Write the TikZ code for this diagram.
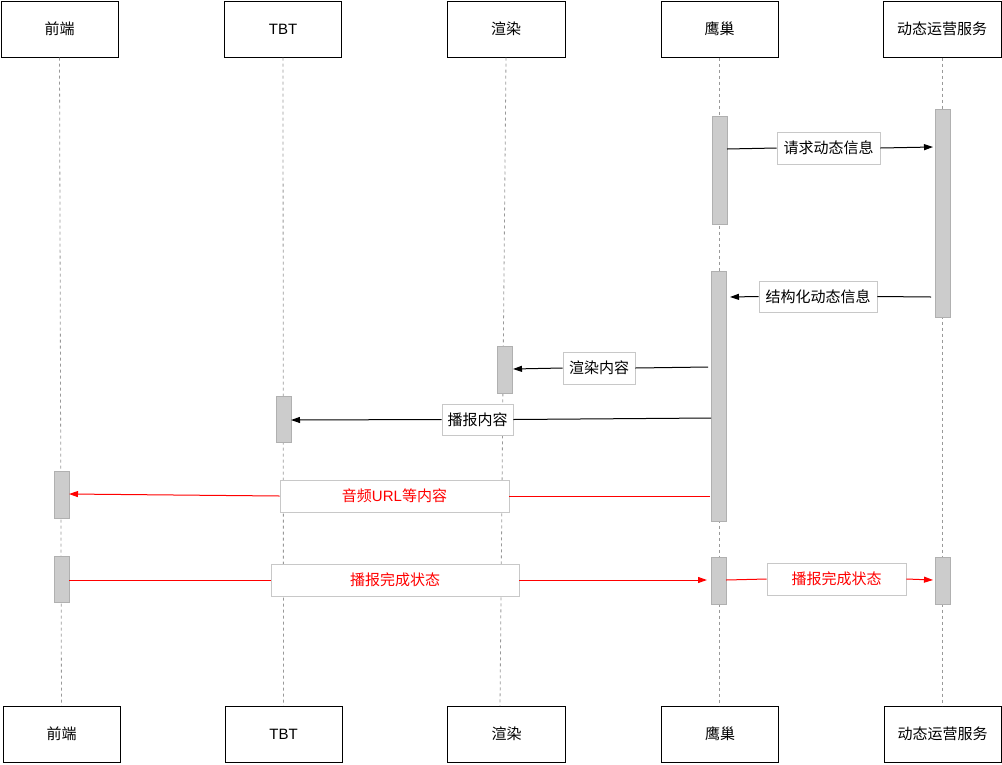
\documentclass[tikz,border=0pt]{standalone}
\usepackage{fontspec}
\setmainfont{Liberation Sans}
\newfontfamily\cjk{Noto Sans CJK SC}
\usetikzlibrary{arrows.meta}
\definecolor{barfill}{HTML}{CCCCCC}
\definecolor{barline}{HTML}{B0B0B0}
\definecolor{lblline}{HTML}{C8C8C8}
\definecolor{lifegray}{HTML}{999999}
\definecolor{msgred}{HTML}{FF0000}
\begin{document}
\begin{tikzpicture}[x=1pt,y=-1pt,
  actor/.style={draw=black, line width=1pt, fill=white, minimum width=117pt, minimum height=56pt, inner sep=0pt, font=\fontsize{15}{18}\selectfont},
  bar/.style={draw=barline, line width=0.6pt, fill=barfill, minimum width=15pt, inner sep=0pt},
  lbl/.style={draw=lblline, line width=0.8pt, fill=white, inner sep=0pt, font=\fontsize{15}{18}\selectfont},
  redlbl/.style={lbl, text=msgred},
  life/.style={draw=lifegray, line width=0.8pt, dash pattern=on 3pt off 3pt},
  msgline/.style={line width=1pt},
  msg/.style={line width=1pt, -{Triangle[length=9pt,width=6pt]}},
]
\useasboundingbox (0,0) rectangle (1002,764);

% actors (top)
\node[actor] (t1) at (59.5,29) {\cjk 前端};
\node[actor] (t2) at (283,29) {TBT};
\node[actor, minimum width=118pt] (t3) at (506,29) {\cjk 渲染};
\node[actor] (t4) at (719.5,29) {\cjk 鹰巢};
\node[actor, minimum width=118pt] (t5) at (942,29) {\cjk 动态运营服务};
% actors (bottom)
\node[actor] (d1) at (61.5,734) {\cjk 前端};
\node[actor] (d2) at (283.5,734) {TBT};
\node[actor, minimum width=118pt] (d3) at (506.5,734) {\cjk 渲染};
\node[actor] (d4) at (720,734) {\cjk 鹰巢};
\node[actor] (d5) at (942.5,734) {\cjk 动态运营服务};

% lifelines
\coordinate (le3) at (500,706);
\draw[life] (t1.south) -- (d1.north);
\draw[life] (t2.south) -- (d2.north);
\draw[life] (t3.south) -- (le3);
\draw[life] (t4.south) -- (t4.south |- d4.north);
\draw[life] (t5.south) -- (t5.south |- d5.north);

% activation bars
\node[bar, minimum height=108pt] (b1) at (719.5,170) {};
\node[bar, minimum height=208pt] (b2) at (942.5,213) {};
\node[bar, minimum height=250pt] (b3) at (718.5,396) {};
\node[bar, minimum height=47pt]  (b4) at (504.5,369.5) {};
\node[bar, minimum height=46pt]  (b5) at (283.5,419) {};
\node[bar, minimum height=47pt]  (b6) at (61.5,494.5) {};
\node[bar, minimum height=46pt]  (b7) at (61.5,579) {};
\node[bar, minimum height=47pt]  (b8) at (719,580.5) {};
\node[bar, minimum height=47pt]  (b9) at (942.5,580.5) {};

% message labels
\node[lbl, minimum width=103pt, minimum height=32pt] (l1) at (828.5,148) {\cjk 请求动态信息};
\node[lbl, minimum width=118pt, minimum height=31pt] (l2) at (818,296.5) {\cjk 结构化动态信息};
\node[lbl, minimum width=72pt, minimum height=32pt] (l3) at (599,368) {\cjk 渲染内容};
\node[lbl, minimum width=71pt, minimum height=31pt] (l4) at (477.5,419.5) {\cjk 播报内容};
\node[redlbl, minimum width=229pt, minimum height=32pt] (l5) at (394.5,496) {{\cjk 音频}URL{\cjk 等内容}};
\node[redlbl, minimum width=248pt, minimum height=32pt] (l6) at (395,580) {\cjk 播报完成状态};
\node[redlbl, minimum width=139pt, minimum height=32pt] (l7) at (836.5,579) {\cjk 播报完成状态};

% message end points
\coordinate (s1) at (727,149);   \coordinate (e1) at (933,147);
\coordinate (s2) at (931,297);   \coordinate (e2) at (730,297);
\coordinate (s3) at (708,367);   \coordinate (e3) at (513,369);
\coordinate (s4) at (711,418);   \coordinate (e4) at (291,420);
\coordinate (s5) at (710,496);   \coordinate (e5) at (69,494);
\coordinate (s6) at (69,580);    \coordinate (e6) at (707,580);
\coordinate (s7) at (726,580);   \coordinate (e7) at (933,580);

% messages
\draw[msgline] (s1) -- (l1.west);  \draw[msg] (l1.east) -- (e1);
\draw[msgline] (s2) -- (l2.east);  \draw[msg] (l2.west) -- (e2);
\draw[msgline] (s3) -- (l3.east);  \draw[msg] (l3.west) -- (e3);
\draw[msgline] (s4) -- (l4.east);  \draw[msg] (l4.west) -- (e4);
\draw[msgline, msgred] (s5) -- (l5.east);  \draw[msg, msgred] (l5.west) -- (e5);
\draw[msgline, msgred] (s6) -- (l6.west);  \draw[msg, msgred] (l6.east) -- (e6);
\draw[msgline, msgred] (s7) -- (l7.west);  \draw[msg, msgred] (l7.east) -- (e7);
\end{tikzpicture}
\end{document}
